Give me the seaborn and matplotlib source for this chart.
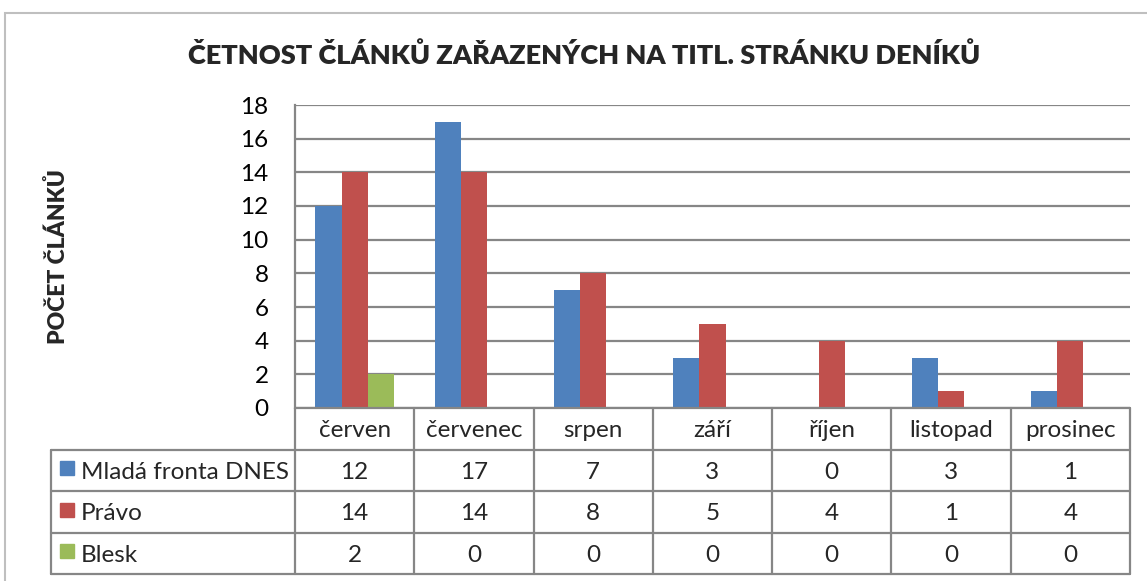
import pandas as pd
import seaborn as sns
import matplotlib.pyplot as plt
from matplotlib.patches import Rectangle

# Data
months = ["červen", "červenec", "srpen", "září", "říjen", "listopad", "prosinec"]
series_names = ["Mladá fronta DNES", "Právo", "Blesk"]
mf_dnes = [12, 17, 7, 3, 0, 3, 1]
pravo = [14, 14, 8, 5, 4, 1, 4]
blesk = [2, 0, 0, 0, 0, 0, 0]
colors = ["#4F81BD", "#C0504D", "#9BBB59"]
y_ticks = list(range(0, 19, 2))

TITLE = "ČETNOST ČLÁNKŮ ZAŘAZENÝCH NA TITL. STRÁNKU DENÍKŮ"
Y_LABEL = "POČET ČLÁNKŮ"

W, H = 1147, 581
GRID = "#868686"
FS = 17.5

sns.set_style("white")
plt.rcParams["font.family"] = ["Lato", "DejaVu Sans"]

values = [mf_dnes, pravo, blesk]
df = pd.DataFrame(
    [(m, s, v[i]) for s, v in zip(series_names, values) for i, m in enumerate(months)],
    columns=["month", "series", "value"],
)

fig = plt.figure(figsize=(W / 100, H / 100), dpi=100)

# plot area in pixel coords
px_left, px_right, px_top, px_zero = 295, 1130, 105, 408
ax = fig.add_axes([px_left / W, 1 - px_zero / H, (px_right - px_left) / W, (px_zero - px_top) / H])
sns.barplot(data=df, x="month", y="value", hue="series", palette=colors,
            width=0.66, saturation=1, legend=False, ax=ax, linewidth=0)
ax.set_xlim(-0.5, len(months) - 0.5)
ax.set_ylim(0, 18)
ax.set_yticks(y_ticks)
ax.set_xticks([])
ax.set_xlabel("")
ax.set_ylabel("")
ax.yaxis.grid(True, color=GRID, linewidth=1.6)
ax.set_axisbelow(True)
ax.tick_params(axis="y", length=0, pad=19, labelsize=FS, labelcolor="black")
for side in ["top", "right", "bottom"]:
    ax.spines[side].set_visible(False)
ax.spines["left"].set_color(GRID)
ax.spines["left"].set_linewidth(1.6)

# data table below the plot
tb_left, tb_bottom = 51, 574
unit = (px_right - px_left) / len(months)
x_left = -0.5 - (px_left - tb_left) / unit
tax = fig.add_axes([tb_left / W, 1 - tb_bottom / H, (px_right - tb_left) / W, (tb_bottom - px_zero) / H])
tax.set_xlim(x_left, len(months) - 0.5)
tax.set_ylim(4, 0)
tax.axis("off")
lw = 1.6
tax.plot([-0.5, len(months) - 0.5], [0, 0], color=GRID, lw=lw, clip_on=False)
for r in range(1, 5):
    tax.plot([x_left, len(months) - 0.5], [r, r], color=GRID, lw=lw, clip_on=False)
for k in range(len(months) + 1):
    tax.plot([-0.5 + k, -0.5 + k], [0, 4], color=GRID, lw=lw, clip_on=False)
tax.plot([x_left, x_left], [1, 4], color=GRID, lw=lw, clip_on=False)

for i, m in enumerate(months):
    tax.text(i, 0.55, m, ha="center", va="center", fontsize=FS)

row_px = (tb_bottom - px_zero) / 4
sq_w = 14 / unit
sq_h = 14 / row_px
for r, (name, vals, c) in enumerate(zip(series_names, values, colors), start=1):
    tax.add_patch(Rectangle((x_left + 9 / unit, r + 0.5 - sq_h / 2 - 0.05), sq_w, sq_h,
                            color=c, clip_on=False))
    tax.text(x_left + 30 / unit, r + 0.55, name, ha="left", va="center", fontsize=FS)
    for i, v in enumerate(vals):
        tax.text(i, r + 0.55, str(v), ha="center", va="center", fontsize=FS)

# title and y label
fig.text(584 / W, 1 - 55 / H, TITLE, ha="center", va="center", fontsize=19.5, weight="heavy")
fig.text(58 / W, 1 - 257 / H, Y_LABEL, ha="center", va="center", rotation=90,
         fontsize=16.5, weight="heavy")

# outer chart frame
fig.add_artist(Rectangle((5 / W, -0.2), 2, 1.2 - 13 / H, transform=fig.transFigure,
                         fill=False, edgecolor="#BFBFBF", lw=1.5))

fig.savefig("out.png", dpi=100)
